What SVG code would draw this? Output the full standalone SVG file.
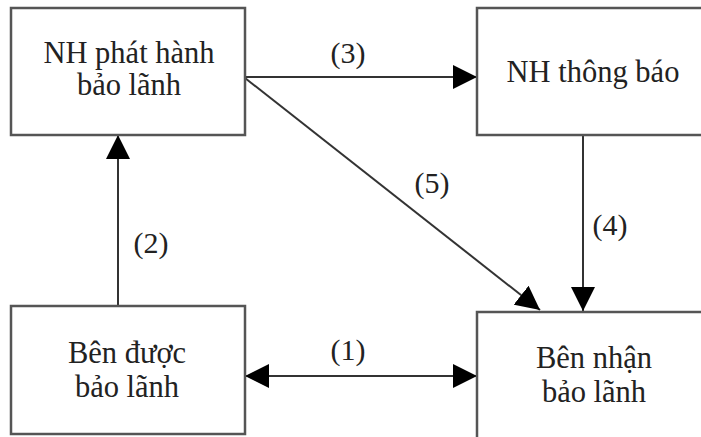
<svg xmlns="http://www.w3.org/2000/svg" width="701" height="437" viewBox="0 0 701 437">
<defs>
<style>
.box{fill:#fff;stroke:#555;stroke-width:2.5}
.t{font-family:"Liberation Serif","Times New Roman",serif;font-size:30.5px;fill:#222;text-anchor:middle}
.l{font-family:"Liberation Serif","Times New Roman",serif;font-size:30px;fill:#222;text-anchor:middle}
.c{stroke:#333;stroke-width:2;fill:none}
</style>
<marker id="ah" markerUnits="userSpaceOnUse" markerWidth="24" markerHeight="24" viewBox="0 0 24 24" refX="24" refY="12" orient="auto-start-reverse">
<path d="M0,0 L24,12 L0,24 Z" fill="#000"/>
</marker>
</defs>
<rect width="701" height="437" fill="#fff"/>
<g id="connectors">
<line class="c" x1="245" y1="77" x2="477" y2="77" marker-end="url(#ah)"/>
<line class="c" x1="245" y1="376" x2="477" y2="376" marker-start="url(#ah)" marker-end="url(#ah)"/>
<line class="c" x1="118" y1="306" x2="118" y2="135" marker-end="url(#ah)"/>
<line class="c" x1="583" y1="135" x2="583" y2="311" marker-end="url(#ah)"/>
<line class="c" x1="245" y1="78" x2="540" y2="310" marker-end="url(#ah)"/>
<text class="l" x="348" y="63">(3)</text>
<text class="l" x="432" y="193">(5)</text>
<text class="l" x="151" y="253">(2)</text>
<text class="l" x="610" y="235">(4)</text>
<text class="l" x="348" y="360">(1)</text>
</g>
<g id="n1">
<rect class="box" x="11" y="8" width="234" height="127"/>
<text class="t" x="129" y="63">NH phát hành</text>
<text class="t" x="129" y="95">bảo lãnh</text>
</g>
<g id="n2">
<rect class="box" x="477" y="8" width="240" height="127"/>
<text class="t" x="593" y="82">NH thông báo</text>
</g>
<g id="n3">
<rect class="box" x="11" y="306" width="234" height="128"/>
<text class="t" x="127" y="363">Bên được</text>
<text class="t" x="127" y="397">bảo lãnh</text>
</g>
<g id="n4">
<rect class="box" x="477" y="312" width="240" height="140"/>
<text class="t" x="594" y="368">Bên nhận</text>
<text class="t" x="594" y="402">bảo lãnh</text>
</g>
</svg>
